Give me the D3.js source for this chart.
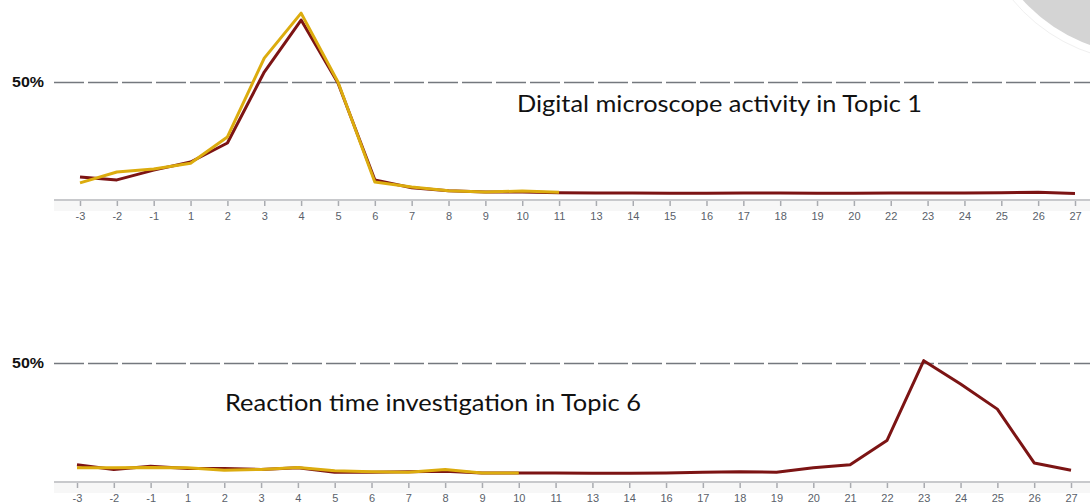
<!DOCTYPE html>
<html lang="en">
<head>
  <meta charset="UTF-8">
  <title>Topic activity</title>
  <script src="https://d3js.org/d3.v7.min.js"></script>
  <style>
    html, body { margin: 0; background: #fff; }
    svg { display: block; }
    .tick-label { font-family: Arial, "Liberation Sans", sans-serif; font-size: 11px; fill: #5a5f6a; }
    .pct { font-family: Arial, "Liberation Sans", sans-serif; font-size: 14px; font-weight: bold; fill: #111; }
    .title { font-family: Lato, "Open Sans", sans-serif; font-size: 24px; fill: #111; }
  </style>
</head>
<body>
<svg id="chart" width="1090" height="504"></svg>
<script>
  // x categories (weeks) for each panel
  const topCats = [-3, -2, -1, 1, 2, 3, 4, 5, 6, 7, 8, 9, 10, 11, 13, 14, 15, 16, 17, 18, 19, 20, 22, 23, 24, 25, 26, 27];
  const bottomCats = [-3, -2, -1, 1, 2, 3, 4, 5, 6, 7, 8, 9, 10, 11, 13, 14, 16, 17, 18, 19, 20, 21, 22, 23, 24, 25, 26, 27];

  // percentages
  const topRed = [9.1, 7.8, 12, 15.5, 23.7, 54.3, 76.7, 49.6, 7.8, 4.4, 3.1, 2.6, 2.6, 2.3,
    2.2, 2.2, 2.1, 2.1, 2.2, 2.2, 2.1, 2.1, 2.2, 2.2, 2.2, 2.3, 2.5, 1.9];
  const topYellow = [6.5, 11.2, 12.5, 15, 26.3, 60.3, 79.7, 50, 6.9, 4.7, 3.1, 2.6, 3, 2.5];

  const bottomRed = [6.3, 4.3, 5.7, 4.7, 4.7, 4.3, 5.0, 3.1, 3.1, 3.3, 3.5, 2.8, 2.8, 2.8,
    2.7, 2.7, 2.8, 3.1, 3.3, 3.1, 5.0, 6.3, 16.7, 51, 41, 30.2, 7.1, 4.0];
  const bottomYellow = [5, 5, 5.2, 5, 4, 4.3, 5.2, 3.8, 3.3, 3.1, 4.3, 2.8, 2.8];

  const titles = ["Digital microscope activity in Topic 1", "Reaction time investigation in Topic 6"];

  const svg = d3.select("#chart");
  const W = 1090;

  // decorative grey circle top-right
  svg.append("circle")
    .attr("cx", 1145).attr("cy", -110).attr("r", 172)
    .attr("fill", "#fff").attr("stroke", "#f0f0f0").attr("stroke-width", 1);
  svg.append("circle")
    .attr("cx", 1145).attr("cy", -110).attr("r", 164.5)
    .attr("fill", "#d4d4d4");

  const panels = [
    { cats: topCats, red: topRed, yellow: topYellow, x0: 80, x1: 1075, axisY: 200, y0: 198, y50: 82,
      title: titles[0], tx: 517, ty: 112, tw: 405 },
    { cats: bottomCats, red: bottomRed, yellow: bottomYellow, x0: 77, x1: 1071, axisY: 482, y0: 479.5, y50: 363,
      title: titles[1], tx: 225, ty: 411, tw: 416 }
  ];

  panels.forEach(p => {
    const g = svg.append("g");
    const x = d3.scalePoint().domain(p.cats).range([p.x0, p.x1]);
    const y = d3.scaleLinear().domain([0, 50]).range([p.y0, p.y50]);

    // 50% reference line
    g.append("line")
      .attr("x1", 54).attr("x2", W)
      .attr("y1", y(50) + 0.5).attr("y2", y(50) + 0.5)
      .attr("stroke", "#74787e").attr("stroke-width", 1.3)
      .attr("stroke-dasharray", "30,4");
    g.append("text").attr("class", "pct")
      .attr("x", 12).attr("y", y(50) + 5)
      .attr("textLength", 32).attr("lengthAdjust", "spacingAndGlyphs")
      .text("50%");

    // light band under the axis
    g.append("rect")
      .attr("x", 54).attr("y", p.axisY).attr("width", W - 54).attr("height", 11)
      .attr("fill", "#f7f7f7");

    // x axis
    const axis = d3.axisBottom(x).tickSize(6).tickPadding(6);
    const ax = g.append("g").attr("transform", `translate(0,${p.axisY})`).call(axis);
    ax.select(".domain").remove();
    ax.selectAll(".tick line").attr("stroke", "#a9abb0").attr("stroke-width", 1.5);
    ax.selectAll(".tick text").attr("class", "tick-label").attr("fill", null)
      .attr("font-size", null).attr("font-family", null);
    g.append("line")
      .attr("x1", 54).attr("x2", W).attr("y1", p.axisY).attr("y2", p.axisY)
      .attr("stroke", "#c8c9cc").attr("stroke-width", 2);

    const line = d3.line()
      .x((d, i) => x(p.cats[i]))
      .y(d => y(d));

    g.append("path").datum(p.red)
      .attr("d", line)
      .attr("fill", "none").attr("stroke", "#7c1414").attr("stroke-width", 3)
      .attr("stroke-linejoin", "round");
    g.append("path").datum(p.yellow)
      .attr("d", line)
      .attr("fill", "none").attr("stroke", "#dcac0e").attr("stroke-width", 3)
      .attr("stroke-linejoin", "round");

    g.append("text").attr("class", "title")
      .attr("x", p.tx).attr("y", p.ty)
      .attr("textLength", p.tw).attr("lengthAdjust", "spacingAndGlyphs")
      .text(p.title);
  });
</script>
</body>
</html>
